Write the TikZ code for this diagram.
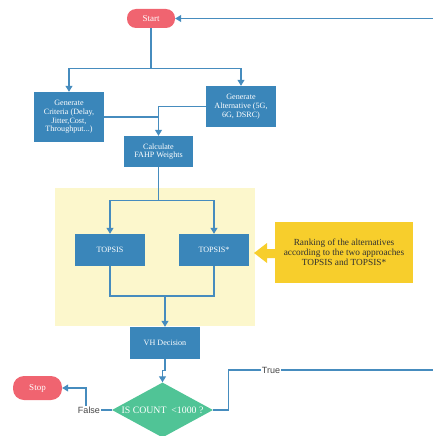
\documentclass[tikz,border=0pt]{standalone}
\usepackage{fontspec}
\setmainfont{Liberation Serif}
\newfontfamily\lblfont{Liberation Sans}
\usetikzlibrary{arrows.meta,shapes.geometric}
\definecolor{boxblue}{RGB}{58,134,186}
\definecolor{lineblue}{RGB}{70,140,190}
\definecolor{pill}{RGB}{240,100,112}
\definecolor{dgreen}{RGB}{80,196,150}
\definecolor{gold}{RGB}{247,206,44}
\definecolor{paleyel}{RGB}{252,247,204}
\definecolor{lblgray}{RGB}{70,70,70}
\tikzset{
  x=1pt,y=-1pt,
  bluebox/.style={rectangle, fill=boxblue, draw=none, text=white, align=center,
    inner sep=0pt, font=\fontsize{8.1}{8.7}\selectfont},
  pillbox/.style={rectangle, rounded corners=9pt, fill=pill, text=white,
    inner sep=0pt, font=\fontsize{9}{10}\selectfont},
  conn/.style={draw=lineblue, line width=1.1pt},
  arr/.style={conn, -{Triangle[width=7pt,length=6pt]}, lineblue},
  lbl/.style={fill=white, inner sep=1pt, text=lblgray, font=\lblfont\fontsize{9}{10}\selectfont}
}
\begin{document}
\begin{tikzpicture}
\useasboundingbox (0,0) rectangle (432,436);
% pale highlight
\fill[paleyel] (55,188) rectangle (255,326);

\node[pillbox, minimum width=48pt, minimum height=19pt] (start) at (151,18.5) {Start};
\node[bluebox, minimum width=70pt, minimum height=50pt] (crit) at (69,117)
  {Generate\\Criteria (Delay,\\Jitter,Cost,\\Throughput...)};
\node[bluebox, minimum width=70pt, minimum height=41pt] (alt) at (241,106.5)
  {Generate\\Alternative (5G,\\6G, DSRC)};
\node[bluebox, minimum width=69pt, minimum height=31pt] (calc) at (158.5,151.5)
  {Calculate\\FAHP Weights};
\node[bluebox, minimum width=70pt, minimum height=32pt] (t1) at (110,250) {TOPSIS};
\node[bluebox, minimum width=70pt, minimum height=32pt] (t2) at (214,250) {TOPSIS*};
\node[rectangle, fill=gold, minimum width=138pt, minimum height=61pt, inner sep=0pt,
  align=center, text=lblgray!70!black, font=\fontsize{9.3}{10}\selectfont] (rank) at (344,252.5)
  {Ranking of the alternatives\\according to the two approaches\\TOPSIS and TOPSIS*};
\node[bluebox, minimum width=70pt, minimum height=32pt] (vh) at (165,343) {VH Decision};
\node[diamond, fill=dgreen, minimum width=101pt, minimum height=55pt, inner sep=0pt] (dec) at (162.5,410) {};
\node[text=white, inner sep=0pt, font=\fontsize{9.8}{11}\selectfont] (dectext) at (162.5,410) {IS COUNT\ \ <1000 ?};
\node[pillbox, rounded corners=11pt, minimum width=49pt, minimum height=24pt] (stop) at (37.5,388) {Stop};

% yellow block arrow
\fill[gold] (rank.west |- 0,249) -- (267,249) -- (267,243) -- (254,253) -- (267,263) -- (267,258) -- (rank.west |- 0,258) -- cycle;

% connectors
\draw[arr] (start.south) -- ++(0,40.5) -| (crit.north);
\draw[arr] (start.south) -- ++(0,40.5) -| (alt.north);
\draw[conn] (crit.east) -- (calc.north |- crit.east);
\draw[arr] (alt.west) -| (calc.north);
\draw[arr] (calc.south) -- ++(0,33) -| (t1.north);
\draw[arr] (calc.south) -- ++(0,33) -| (t2.north);
\coordinate (m) at (165,296);
\draw[conn] (t1.south) |- (m) -| (t2.south);
\draw[arr] (m) -- (vh.north);
\draw[arr] (vh.south) -- ++(0,11) -| (dec.north);
\coordinate (fc) at (86,410);
\draw[arr] (dec.west) -- (fc) |- (stop.east);
\node[lbl] (flabel) at (89,410) {False};
\coordinate (tc) at (440,370);
\draw[arr] (dec.east) -- ++(15,0) |- (tc) |- (start.east);
\node[lbl] (tlabel) at (271,370) {True};
\end{tikzpicture}
\end{document}
